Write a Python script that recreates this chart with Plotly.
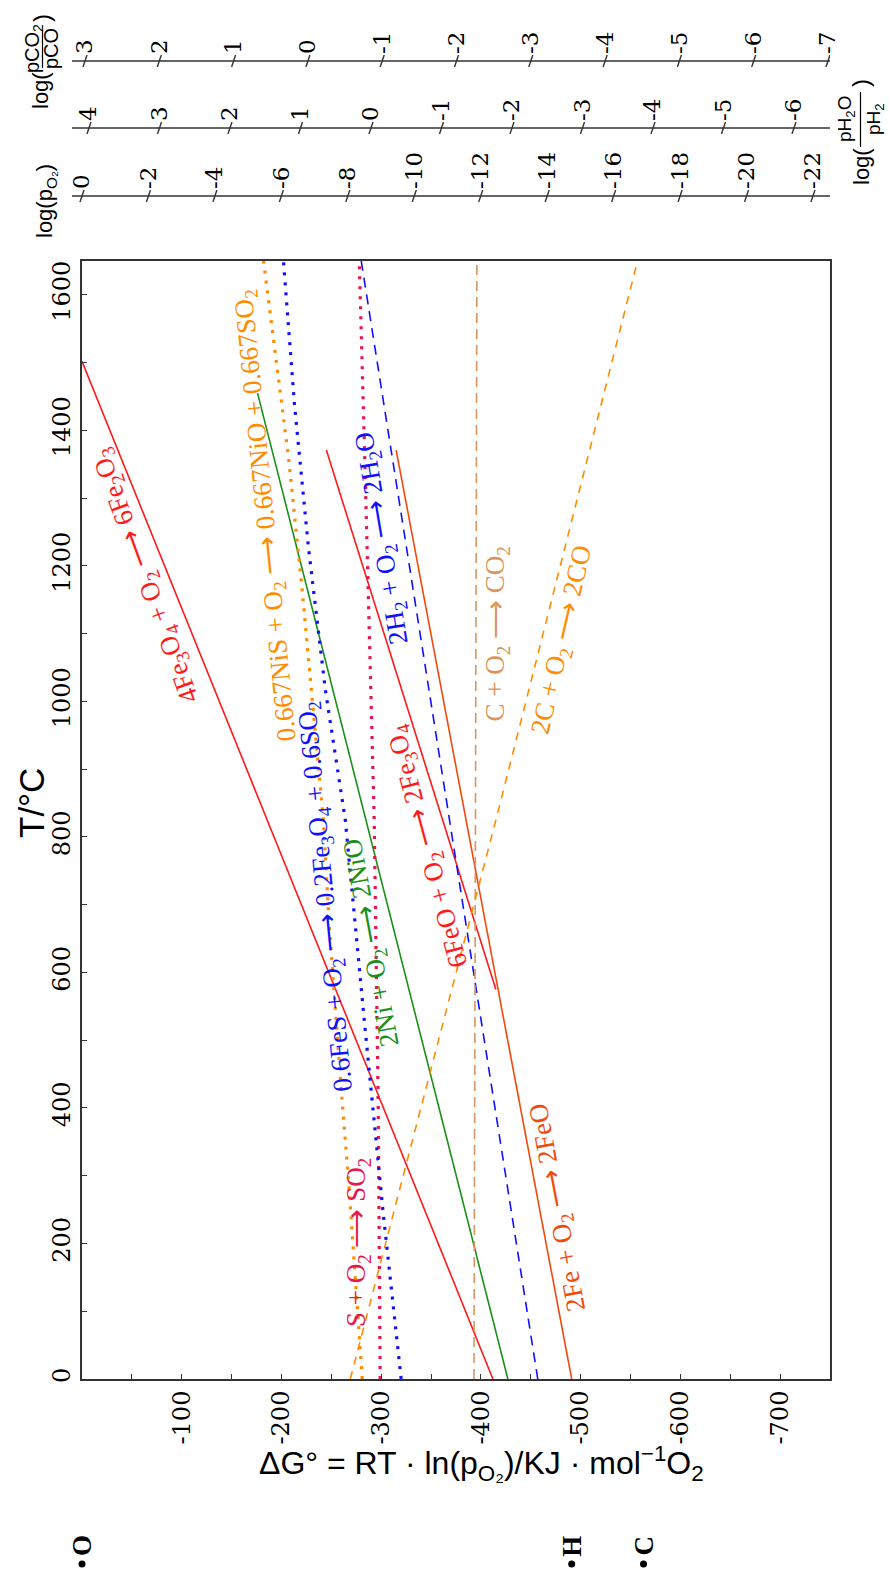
import plotly.graph_objects as go

# ---------------- data ----------------
# Ellingham lines: temperature T (deg C) and dG (kJ/mol O2)
T_FE3O4_FE2O3 = [0, 825, 1502]
G_FE3O4_FE2O3 = [-412, -186, 0]

T_FEO_FE3O4 = [575, 1371]
G_FEO_FE3O4 = [-415, -245]

T_FE_FEO = [0, 575, 1371]
G_FE_FEO = [-491, -417, -315]

T_NI_NIO = [0, 1455]
G_NI_NIO = [-427, -176]

T_H2_H2O = [0, 823, 1650]
G_H2_H2O = [-457, -369, -280]

T_C_CO2 = [0, 1650]
G_C_CO2 = [-393, -396]

T_C_CO = [0, 825, 1650]
G_C_CO = [-269, -415, -557]

T_S_SO2 = [0, 403, 825, 1123, 1386, 1650]
G_S_SO2 = [-299, -297, -293, -288, -283, -278]

T_FES = [0, 245, 530, 825, 1017, 1228, 1439, 1650]
G_FES = [-320, -302, -283, -264, -244, -227, -213, -202]

T_NIS = [0, 298, 425, 667, 825, 965, 1176, 1361, 1518, 1650]
G_NIS = [-281, -267, -260, -248, -242, -233, -220, -207, -193, -182]

# reference points at absolute zero
DOT_NAMES = ["O", "H", "C"]
DOT_G = [0, -491, -563]
DOT_T = -273

# axis ticks
G_TICKS = [-100, -200, -300, -400, -500, -600, -700]
G_MINOR = [-50, -150, -250, -350, -450, -550, -650]
T_TICKS = [0, 200, 400, 600, 800, 1000, 1200, 1400, 1600]
T_MINOR = [100, 300, 500, 700, 900, 1100, 1300, 1500]
PO2_TICKS = [0, -2, -4, -6, -8, -10, -12, -14, -16, -18, -20, -22]
PH2O_TICKS = [4, 3, 2, 1, 0, -1, -2, -3, -4, -5, -6]
PCO2_TICKS = [3, 2, 1, 0, -1, -2, -3, -4, -5, -6, -7]

# ---------------- layout helpers ----------------
W, H = 889, 1569
ML, MR, MT, MB = 72, 59, 0, 0
PW = W - ML - MR
PH = H - MT - MB

FRAME_TOP, FRAME_BOTTOM, FRAME_LEFT = 261, 1379, 82
T_MAX = 1650
G_RANGE = [0, -750]


def pxf(x):
    return (x - ML) / PW


def pyf(y):
    return (MT + PH - y) / PH


SERIF = "Liberation Serif, Times New Roman, serif"
TICKSERIF = "DejaVu Serif, serif"
SANS = "Liberation Sans, Arial, sans-serif"
AXC = "#333333"

RED = "#ff1a1a"
ORED = "#f24a0c"
GREEN = "#1a901a"
BLUE = "#1010ff"
DORANGE = "#ff8c00"
TAN = "#d9955c"
CRIMSON = "#e8164c"

series = [
    (T_FE3O4_FE2O3, G_FE3O4_FE2O3, RED, 1.6, "solid"),
    (T_FEO_FE3O4, G_FEO_FE3O4, RED, 1.6, "solid"),
    (T_FE_FEO, G_FE_FEO, ORED, 1.6, "solid"),
    (T_NI_NIO, G_NI_NIO, GREEN, 1.6, "solid"),
    (T_H2_H2O, G_H2_H2O, BLUE, 1.6, "10px,7px"),
    (T_C_CO2, G_C_CO2, TAN, 1.6, "10px,6px"),
    (T_C_CO, G_C_CO, DORANGE, 1.6, "8px,7px"),
    (T_S_SO2, G_S_SO2, CRIMSON, 3.2, "3px,7px"),
    (T_FES, G_FES, BLUE, 3.2, "3px,7px"),
    (T_NIS, G_NIS, DORANGE, 3.2, "3px,7px"),
]

fig = go.Figure()
for t, g, c, w, d in series:
    fig.add_trace(go.Scatter(x=g, y=t, mode="lines",
                             line=dict(color=c, width=w, dash=d),
                             hoverinfo="skip", xaxis="x", yaxis="y"))

# extended (invisible) subplot with the same scale, reaching down to -273 C
px_per_T = (FRAME_BOTTOM - FRAME_TOP) / T_MAX
T_LOW = -(H - FRAME_BOTTOM) / px_per_T
fig.add_trace(go.Scatter(x=DOT_G, y=[DOT_T] * len(DOT_G), mode="markers",
                         marker=dict(color="black", size=7), cliponaxis=False,
                         hoverinfo="skip", xaxis="x5", yaxis="y5"))

# ---------------- nomographic scales ----------------
scales = [
    # ticks, range, line y px, axis id
    (PO2_TICKS, [0.301, -22.512], 196, 2),
    (PH2O_TICKS, [4.241, -6.511], 128, 3),
    (PCO2_TICKS, [3.175, -7.027], 61, 4),
]
axes_layout = {}
for ticks, rng, ly, k in scales:
    ppu = PW / (rng[0] - rng[1])
    s = 2.0 / ppu
    xs, ys = [], []
    for v in ticks:
        xs += [v + s, v - s, None]
        ys += [-1, 1, None]
    fig.add_trace(go.Scatter(x=rng, y=[0, 0], mode="lines",
                             line=dict(color=AXC, width=1.6),
                             hoverinfo="skip", xaxis=f"x{k}", yaxis=f"y{k}"))
    fig.add_trace(go.Scatter(x=xs, y=ys, mode="lines",
                             line=dict(color=AXC, width=1.4),
                             hoverinfo="skip", xaxis=f"x{k}", yaxis=f"y{k}"))
    axes_layout[f"xaxis{k}"] = dict(
        domain=[0, 1], range=rng, anchor=f"y{k}", side="top",
        tickmode="array", tickvals=ticks, ticktext=[str(v) for v in ticks],
        tickangle=-90,
        tickfont=dict(family=TICKSERIF, size=23, color="black"),
        ticks="", showgrid=False, zeroline=False, showline=False,
        automargin=False, fixedrange=True, ticklabelstandoff=0)
    axes_layout[f"yaxis{k}"] = dict(
        domain=[pyf(ly + 6), pyf(ly - 6)], range=[-1, 1], anchor=f"x{k}",
        visible=False, fixedrange=True)

main_xdom = [pxf(FRAME_LEFT), 1]
axes_layout["xaxis5"] = dict(domain=main_xdom, range=G_RANGE, anchor="y5",
                             visible=False, fixedrange=True)
axes_layout["yaxis5"] = dict(domain=[0, pyf(FRAME_TOP)], range=[T_LOW, T_MAX],
                             anchor="x5", visible=False, fixedrange=True)

# ---------------- main axes ----------------
fig.update_layout(
    width=W, height=H,
    margin=dict(l=ML, r=MR, t=MT, b=MB, pad=0),
    paper_bgcolor="white", plot_bgcolor="rgba(0,0,0,0)",
    showlegend=False,
    font=dict(family=SERIF),
    xaxis=dict(domain=main_xdom, range=G_RANGE, anchor="y",
               tickmode="array", tickvals=G_TICKS,
               ticktext=[str(v) for v in G_TICKS],
               tickangle=-90, ticks="inside", ticklen=5, tickwidth=1.4,
               tickcolor=AXC,
               minor=dict(tickmode="array", tickvals=G_MINOR, ticks="inside",
                          ticklen=5, tickwidth=1.4, tickcolor=AXC, showgrid=False),
               tickfont=dict(family=TICKSERIF, size=24, color="black"),
               showline=True, linecolor=AXC, linewidth=2, mirror=True,
               showgrid=False, zeroline=False, automargin=False),
    yaxis=dict(domain=[pyf(FRAME_BOTTOM), pyf(FRAME_TOP)], range=[0, T_MAX],
               anchor="x",
               tickmode="array", tickvals=T_TICKS,
               ticktext=[str(v) for v in T_TICKS],
               tickangle=-90, ticks="inside", ticklen=5, tickwidth=1.4,
               tickcolor=AXC,
               minor=dict(tickmode="array", tickvals=T_MINOR, ticks="inside",
                          ticklen=5, tickwidth=1.4, tickcolor=AXC, showgrid=False),
               tickfont=dict(family=TICKSERIF, size=24, color="black"),
               showline=True, linecolor=AXC, linewidth=2, mirror=True,
               showgrid=False, zeroline=False, automargin=False),
    **axes_layout,
)

# ---------------- line labels ----------------
ARW = "⟶"
labels = [
    (f"4Fe<sub>3</sub>O<sub>4</sub> + O<sub>2</sub> {ARW} 6Fe<sub>2</sub>O<sub>3</sub>", -65, 1186, -110, RED, 27),
    (f"0.667NiS + O<sub>2</sub> {ARW} 0.667NiO + 0.667SO<sub>2</sub>", -185, 1274, -95.6, DORANGE, 27),
    (f"0.6FeS + O<sub>2</sub> {ARW} 0.2Fe<sub>3</sub>O<sub>4</sub> + 0.6SO<sub>2</sub>", -245, 713, -95.4, BLUE, 27),
    (f"2Ni + O<sub>2</sub> {ARW} 2NiO", -291, 644, -100.5, GREEN, 27),
    (f"S + O<sub>2</sub> {ARW} SO<sub>2</sub>", -277, 201, -90, CRIMSON, 27),
    (f"2H<sub>2</sub> + O<sub>2</sub> {ARW} 2H<sub>2</sub>O", -302, 1241, -99.6, BLUE, 27),
    (f"6FeO + O<sub>2</sub> {ARW} 2Fe<sub>3</sub>O<sub>4</sub>", -347, 787, -105, RED, 27),
    (f"2Fe + O<sub>2</sub> {ARW} 2FeO", -478, 254, -100.7, ORED, 27),
    (f"C + O<sub>2</sub> {ARW} CO<sub>2</sub>", -416, 1100, -90, TAN, 27),
    (f"2C + O<sub>2</sub> {ARW} 2CO", -482, 1091, -77, DORANGE, 27),
]
for text, g, t, ang, c, fs in labels:
    fig.add_annotation(x=g, y=t, xref="x", yref="y", text=text, textangle=ang,
                       showarrow=False, xanchor="center", yanchor="middle",
                       font=dict(family=SERIF, size=fs, color=c))

for name, g in zip(DOT_NAMES, DOT_G):
    fig.add_annotation(x=g, y=DOT_T, xref="x5", yref="y5", text=f"<b>{name}</b>",
                       textangle=-90, showarrow=False, xanchor="center",
                       yanchor="middle", yshift=18,
                       font=dict(family=SERIF, size=27, color="black"))


# ---------------- axis titles ----------------
def ann(text, x, y, size, family=SANS, angle=-90):
    fig.add_annotation(x=pxf(x), y=pyf(y), xref="paper", yref="paper",
                       text=text, textangle=angle, showarrow=False,
                       xanchor="center", yanchor="middle",
                       font=dict(family=family, size=size, color="black"))


ann("T/°C", 31, 803, 35)
ann("ΔG° = RT · ln(p<sub>O₂</sub>)/KJ · mol<sup>−1</sup>O<sub>2</sub>",
    481, 1463, 32, angle=0)

# log(pO2)
ann("log(p<sub>O₂</sub>)", 46, 201, 22)
# log(pCO2/pCO)
ann("log(", 40, 91, 22)
ann("pCO<sub>2</sub>", 34, 49, 20)
ann("pCO", 51, 49, 20)
ann(")", 41, 18, 24)
fig.add_shape(type="line", xref="paper", yref="paper",
              x0=pxf(42.5), x1=pxf(42.5), y0=pyf(30), y1=pyf(68),
              line=dict(color="black", width=1.2))
# log(pH2O/pH2)
ann("log(", 861, 167, 22)
ann("pH<sub>2</sub>O", 846, 119, 19)
ann("pH<sub>2</sub>", 875, 119, 19)
ann(")", 861, 83, 24)
fig.add_shape(type="line", xref="paper", yref="paper",
              x0=pxf(860.5), x1=pxf(860.5), y0=pyf(92), y1=pyf(147),
              line=dict(color="black", width=1.2))

fig.write_html("out.html", config={"displayModeBar": False},
               post_script="document.body.style.margin='0px';")
